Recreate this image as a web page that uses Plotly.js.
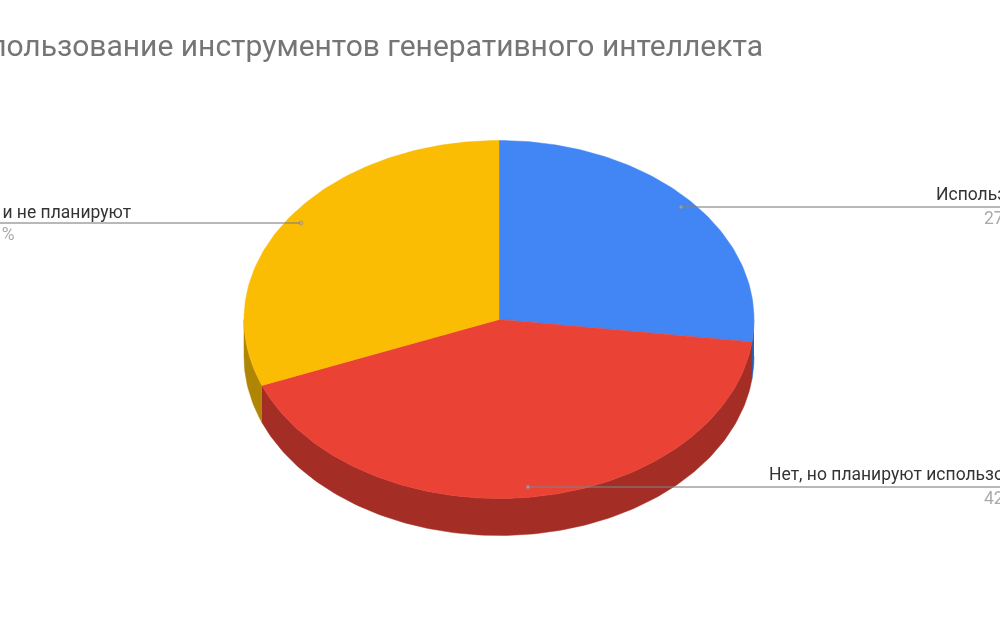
<!DOCTYPE html>
<html>
<head>
<meta charset="utf-8">
<script src="https://cdn.plot.ly/plotly-3.0.1.min.js"></script>
<style>
html,body{margin:0;padding:0;background:#fff;overflow:hidden}
#chart{width:1000px;height:625px;filter:blur(0.6px)}
</style>
</head>
<body>
<div id="chart"></div>
<script>
const chartTitle = "Использование инструментов генеративного интеллекта";
const categories = ["Используют", "Нет, но планируют использовать", "Нет и не планируют"];
const values = [27, 42, 31];
const topColors = ["#4285F4", "#EA4335", "#FBBC04"];
const sideColors = ["#2F5FAD", "#A42E25", "#B08503"];

const cx = 499, cy = 319.5, rx = 255, ry = 179, depth = 37;
const leaderX = [[681, 1000], [528, 1000], [301, 0]];
const leaderY = [[207, 207], [487, 487], [223, 223]];
const labelX = [934, 767, 134];
const labelY = [194, 474, 212];
const pctX = [982, 982, 17];
const pctY = [218, 498, 234];
const anchors = ["left", "left", "right"];

const total = values.reduce((a, b) => a + b, 0);
const px = t => cx + rx * Math.sin(t * Math.PI / 180);
const py = (t, off) => cy - ry * Math.cos(t * Math.PI / 180) + off;

const wallTraces = [], topTraces = [], leaderTraces = [];
let start = 0;
values.forEach((v, i) => {
  const end = start + v / total * 360;
  const a = Math.max(start, 90), b = Math.min(end, 270);
  if (b > a) {
    const xs = [], ys = [];
    for (let t = a; t < b; t += 1) { xs.push(px(t)); ys.push(py(t, 0)); }
    xs.push(px(b)); ys.push(py(b, 0));
    for (let t = b; t > a; t -= 1) { xs.push(px(t)); ys.push(py(t, depth)); }
    xs.push(px(a)); ys.push(py(a, depth));
    wallTraces.push({x: xs, y: ys, mode: "lines", fill: "toself", fillcolor: sideColors[i],
      line: {color: sideColors[i], width: 0.5}, hoverinfo: "skip", name: categories[i] + " (бок)"});
  }
  const xs = [cx], ys = [cy];
  for (let t = start; t < end; t += 1) { xs.push(px(t)); ys.push(py(t, 0)); }
  xs.push(px(end), cx); ys.push(py(end, 0), cy);
  topTraces.push({x: xs, y: ys, mode: "lines", fill: "toself", fillcolor: topColors[i],
    line: {color: topColors[i], width: 0.5}, hoverinfo: "skip", name: categories[i]});
  leaderTraces.push({x: leaderX[i], y: leaderY[i], mode: "lines+markers",
    line: {color: "rgba(130,130,130,0.75)", width: 1.3},
    marker: {size: [4, 0], color: "rgba(175,175,175,0.9)"}, hoverinfo: "skip", name: "линия"});
  start = end;
});

const annotations = [];
categories.forEach((c, i) => {
  annotations.push({xref: "x", yref: "y", x: labelX[i], y: labelY[i], text: c, showarrow: false,
    xanchor: anchors[i], yanchor: "middle", font: {family: "Roboto, Arial, sans-serif", size: 17.5, color: "#333333"}});
  annotations.push({xref: "x", yref: "y", x: pctX[i], y: pctY[i], text: values[i] + "%", showarrow: false,
    xanchor: anchors[i], yanchor: "middle", font: {family: "Roboto, Arial, sans-serif", size: 17.5, color: "#aaaaaa"}});
});

Plotly.newPlot("chart", [...wallTraces, ...topTraces, ...leaderTraces], {
  width: 1000, height: 625,
  margin: {l: 0, r: 0, t: 0, b: 0},
  paper_bgcolor: "#ffffff", plot_bgcolor: "#ffffff",
  showlegend: false,
  title: {text: chartTitle, x: 0.763, xanchor: "right", xref: "paper", y: 0.928, yanchor: "middle", yref: "container",
    font: {family: "Roboto, Arial, sans-serif", size: 30, color: "#757575"}},
  xaxis: {range: [0, 1000], visible: false, fixedrange: true},
  yaxis: {range: [625, 0], visible: false, fixedrange: true},
  annotations
}, {displayModeBar: false, staticPlot: true});
</script>
</body>
</html>
